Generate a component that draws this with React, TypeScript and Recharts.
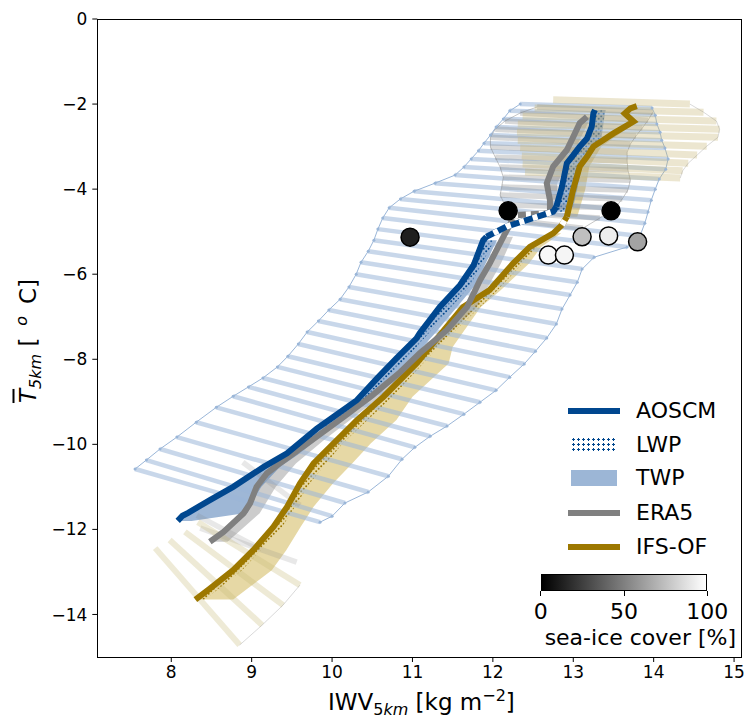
import React from "react";
import { ComposedChart, Line, Area, XAxis, YAxis } from "recharts";

const xTicks = [8, 9, 10, 11, 12, 13, 14, 15];
const yTicks = [0, -2, -4, -6, -8, -10, -12, -14];
const cbarTicks = [0, 50, 100];

// mean curves [IWV, T]
const aoscmMain = [[8.08,-11.80],[8.14,-11.68],[8.21,-11.61],[8.48,-11.31],[8.77,-11.00],[9.15,-10.53],[9.44,-10.21],[9.81,-9.63],[10.02,-9.35],[10.31,-8.96],[10.56,-8.45],[10.80,-7.98],[11.05,-7.51],[11.09,-7.39],[11.34,-6.77],[11.59,-6.26],[11.76,-5.79],[11.88,-5.20],[11.92,-5.12]];
const aoscmGap = [[11.92,-5.12],[12.17,-4.88],[12.42,-4.73],[12.75,-4.53],[12.79,-4.41]];
const aoscmTop = [[12.79,-4.41],[12.86,-3.94],[12.92,-3.39],[13.0,-3.20],[13.08,-3.00],[13.17,-2.81],[13.23,-2.53],[13.25,-2.22],[13.27,-2.14]];

const era5Main = [[8.48,-12.29],[8.65,-12.06],[8.90,-11.62],[8.98,-11.39],[9.06,-11.00],[9.19,-10.68],[9.35,-10.45],[9.75,-9.90],[10.15,-9.35],[10.50,-8.85],[10.85,-8.30],[11.09,-7.86],[11.43,-7.31],[11.68,-6.77],[11.84,-6.14],[11.96,-5.75],[12.13,-5.12],[12.25,-4.70]];
const era5Gap = [[12.25,-4.62],[12.71,-4.56]];
const era5Top = [[12.71,-4.56],[12.71,-4.26],[12.67,-3.86],[12.75,-3.47],[12.92,-3.08],[13.0,-2.77],[13.08,-2.45],[13.17,-2.30]];

const ifsMain = [[8.30,-13.65],[8.48,-13.39],[8.77,-12.96],[9.02,-12.49],[9.27,-11.94],[9.44,-11.47],[9.60,-10.92],[9.77,-10.45],[10.02,-9.98],[10.31,-9.43],[10.64,-8.88],[11.05,-8.10],[11.22,-7.71],[11.63,-6.77],[11.96,-6.37],[12.25,-5.75],[12.46,-5.36],[12.75,-5.04],[12.86,-4.84]];
const ifsGap = [[12.86,-4.84],[12.92,-4.65]];
const ifsTop = [[12.92,-4.65],[13.0,-4.0],[13.08,-3.47],[13.17,-3.24],[13.25,-3.0],[13.50,-2.69],[13.75,-2.41],[13.64,-2.22],[13.71,-2.10],[13.79,-2.05]];

// bands [T, IWV left, IWV right]
const aoscmTwpLow = [[-11.80,8.08,8.25],[-11.61,8.21,8.95],[-11.31,8.48,9.02],[-11.00,8.77,9.12],[-10.53,9.15,9.35],[-10.21,9.44,9.60],[-9.63,9.81,9.98],[-8.96,10.31,10.48],[-7.98,10.80,11.0],[-7.39,11.09,11.28],[-6.26,11.59,11.78],[-5.20,11.88,12.05]];
const aoscmTwpTop = [[-4.53,12.75,12.90],[-4.41,12.79,13.0],[-3.39,12.92,13.12],[-2.81,13.17,13.35],[-2.14,13.27,13.40]];
const aoscmLwpLow = [[-10.21,9.44,9.50],[-9.63,9.81,9.88],[-8.96,10.31,10.40],[-7.98,10.80,10.92],[-7.39,11.09,11.20],[-6.26,11.59,11.72],[-5.20,11.88,12.02]];
const aoscmLwpTop = [[-4.53,12.75,12.85],[-4.41,12.79,12.95],[-3.39,12.92,13.10],[-2.81,13.17,13.33],[-2.14,13.27,13.40]];

const era5TwpLow = [[-12.29,8.48,8.70],[-11.62,8.90,9.10],[-11.00,9.06,9.30],[-10.45,9.35,9.55],[-9.90,9.75,9.90],[-8.85,10.50,10.62],[-7.86,11.09,11.20],[-6.77,11.68,11.80],[-5.75,11.96,12.10],[-5.12,12.13,12.25]];
const era5TwpTop = [[-4.56,12.71,12.80],[-3.86,12.67,12.80],[-3.08,12.92,13.02],[-2.30,13.17,13.22]];

const ifsTwpLow = [[-13.65,8.30,8.77],[-13.39,8.48,8.95],[-12.96,8.77,9.25],[-12.49,9.02,9.43],[-11.94,9.27,9.61],[-11.47,9.44,9.77],[-10.92,9.60,10.01],[-10.45,9.77,10.25],[-9.98,10.02,10.48],[-9.43,10.31,10.80],[-8.88,10.64,11.0],[-8.10,11.05,11.45],[-7.71,11.22,11.50],[-6.77,11.63,11.85],[-6.37,11.96,12.10],[-5.75,12.25,12.45],[-5.36,12.46,12.60],[-5.04,12.75,12.85]];
const ifsLwpLow = [[-13.65,8.30,8.42],[-12.96,8.77,8.88],[-11.94,9.27,9.38],[-10.92,9.60,9.72],[-9.98,10.02,10.13],[-8.88,10.64,10.75],[-7.71,11.22,11.32],[-6.37,11.96,12.06],[-5.36,12.46,12.56]];
const ifsTwpTop = [[-4.65,12.92,13.05],[-4.0,13.0,13.15],[-3.47,13.08,13.20],[-3.0,13.25,13.35],[-2.41,13.75,13.80]];

// spread envelopes: stripes [IWV left, T left, IWV right, T right]
const aoscmStripes = [
  [12.34,-2.00,13.98,-2.09],[12.21,-2.16,14.02,-2.26],[12.13,-2.35,14.04,-2.47],[12.04,-2.54,14.08,-2.66],
  [11.97,-2.73,14.10,-2.85],[11.89,-2.92,14.14,-3.03],[11.82,-3.10,14.18,-3.29],[11.73,-3.29,14.15,-3.53],
  [11.64,-3.48,14.07,-3.76],[11.53,-3.67,14.02,-4.00],[11.28,-3.86,13.97,-4.26],[11.02,-4.05,13.93,-4.54],
  [10.85,-4.23,13.89,-4.80],[10.71,-4.44,13.83,-5.10],[10.63,-4.68,13.67,-5.36],[10.57,-4.94,13.26,-5.60],
  [10.52,-5.20,13.11,-5.88],[10.45,-5.46,13.05,-6.19],[10.36,-5.72,12.96,-6.49],[10.30,-6.00,12.86,-6.82],
  [10.21,-6.30,12.79,-7.17],[10.10,-6.59,12.67,-7.50],[9.96,-6.84,12.53,-7.81],[9.83,-7.10,12.39,-8.11],
  [9.69,-7.36,12.21,-8.42],[9.58,-7.64,12.04,-8.73],[9.45,-7.93,11.84,-9.01],[9.32,-8.18,11.64,-9.29],
  [9.14,-8.44,11.43,-9.57],[8.96,-8.65,11.22,-9.81],[8.77,-8.87,11.03,-10.07],[8.56,-9.13,10.87,-10.35],
  [8.31,-9.48,10.70,-10.75],[8.07,-9.83,10.45,-11.12],[7.86,-10.11,10.16,-11.38],[7.69,-10.37,10.00,-11.69],
  [7.55,-10.58,9.85,-11.83],
];
const era5Stripes = [
  [12.55,-2.07,13.99,-2.19],[12.34,-2.21,13.93,-2.38],[12.15,-2.40,13.86,-2.56],[12.03,-2.59,13.78,-2.75],
  [11.97,-2.78,13.71,-2.94],[11.97,-3.01,13.67,-3.13],[12.03,-3.25,13.67,-3.34],[12.09,-3.48,13.68,-3.55],
  [12.13,-3.72,13.71,-3.79],[12.11,-3.95,13.68,-4.02],[12.09,-4.14,13.61,-4.23],[12.15,-4.37,13.52,-4.44],
  [12.24,-4.56,13.33,-4.68],[12.34,-4.75,13.12,-4.92],
];
const era5LowStripes = [
  [8.89,-10.42,9.60,-11.43],[8.32,-11.67,9.07,-12.42],[8.36,-11.97,9.56,-12.77],
];
const ifsStripes = [
  [12.75,-1.90,14.45,-2.00],[12.52,-2.09,14.62,-2.19],[12.37,-2.28,14.78,-2.40],[12.31,-2.47,14.82,-2.59],
  [12.30,-2.66,14.80,-2.78],[12.31,-2.85,14.66,-2.99],[12.34,-3.03,14.54,-3.20],[12.36,-3.22,14.43,-3.39],
  [12.37,-3.41,14.36,-3.57],[12.40,-3.60,14.33,-3.74],
];
const ifsLowStripes = [
  [7.80,-12.44,8.85,-14.72],[7.98,-12.25,9.13,-14.25],[8.17,-12.06,9.39,-13.78],[8.33,-11.83,9.60,-13.31],
];

// observations: IWV, T, sea-ice cover [%]
const obsIwv = [10.97, 12.19, 13.47, 13.11, 13.44, 13.80, 12.69, 12.89];
const obsT = [-5.13, -4.51, -4.51, -5.12, -5.10, -5.24, -5.55, -5.55];
const obsIce = [12, 0, 0, 75, 93, 64, 97, 96];

const BLUE = "#00478f";
const GRAY = "#808080";
const GOLD = "#9d7800";
const FONT = "'DejaVu Sans', sans-serif";

const pts = (a: number[][]) => a.map(([x, y]) => ({ x, y }));
const band = (a: number[][]) => a.map(([y, l, r]) => ({ y, v: [l, r] }));
const seg = (s: number[]) => [{ x: s[0], y: s[1] }, { x: s[2], y: s[3] }];
const edge = (a: number[][], side: number) => a.map((s) => ({ x: s[side * 2], y: s[side * 2 + 1] }));
const obsData = obsIwv.map((x, i) => ({ x, y: obsT[i], ice: obsIce[i] }));

const ObsDot = (p: any) => {
  const g = Math.round((p.payload.ice / 100) * 255);
  return <circle key={p.index} cx={p.cx} cy={p.cy} r={9} fill={`rgb(${g},${g},${g})`} stroke="#000" strokeWidth={1.5} />;
};

const fmt = (v: number) => (v < 0 ? "\u2212" + Math.abs(v) : String(v));

const subStyle: React.CSSProperties = { fontSize: 16, position: "relative", top: 5 };
const supStyle: React.CSSProperties = { fontSize: 16, position: "relative", top: -9 };

export default function App() {
  const L = 97.3, T = 19, W = 643.2, H = 637.7;
  return (
    <div style={{ position: "absolute", left: 0, top: 0, width: 749, height: 721, background: "#fff", fontFamily: FONT }}>
      <ComposedChart layout="vertical" width={749} height={721} margin={{ top: 19, right: 8.5, bottom: 0, left: 0 }}>
        <defs>
          <pattern id="dotBlue" width="5" height="5" patternUnits="userSpaceOnUse">
            <circle cx="1.2" cy="1.2" r="1" fill={BLUE} />
            <circle cx="3.7" cy="3.7" r="1" fill={BLUE} />
          </pattern>
          <pattern id="dotGold" width="5" height="5" patternUnits="userSpaceOnUse">
            <circle cx="1.2" cy="1.2" r="1" fill={GOLD} />
            <circle cx="3.7" cy="3.7" r="1" fill={GOLD} />
          </pattern>
        </defs>
        <XAxis type="number" dataKey="x" domain={[7.08, 15.08]} ticks={xTicks} allowDataOverflow height={64}
          axisLine={false} tickSize={5} tickMargin={4} tickLine={{ stroke: "#000" }}
          tick={{ fontSize: 17, fill: "#000", fontFamily: FONT }} />
        <YAxis type="number" dataKey="y" domain={[-15, 0]} ticks={yTicks} allowDataOverflow width={97.3} reversed
          axisLine={false} tickSize={5} tickMargin={5} tickLine={{ stroke: "#000" }} tickFormatter={fmt}
          tick={{ fontSize: 17, fill: "#000", fontFamily: FONT }} />

        {/* spread envelopes */}
        {aoscmStripes.map((s, i) => (
          <Line key={"as" + i} data={seg(s)} dataKey="x" stroke="#9ab6d8" strokeOpacity={0.55} strokeWidth={4.5} dot={false} isAnimationActive={false} />
        ))}
        <Line data={edge(aoscmStripes, 0)} dataKey="x" stroke="#9ab6d8" strokeWidth={1} dot={{ r: 1.5, fill: "#9ab6d8", stroke: "none" }} isAnimationActive={false} />
        <Line data={edge(aoscmStripes, 1)} dataKey="x" stroke="#9ab6d8" strokeWidth={1} dot={{ r: 1.5, fill: "#9ab6d8", stroke: "none" }} isAnimationActive={false} />
        {era5Stripes.map((s, i) => (
          <Line key={"es" + i} data={seg(s)} dataKey="x" stroke={GRAY} strokeOpacity={0.3} strokeWidth={5.5} dot={false} isAnimationActive={false} />
        ))}
        {era5LowStripes.map((s, i) => (
          <Line key={"el" + i} data={seg(s)} dataKey="x" stroke={GRAY} strokeOpacity={0.18} strokeWidth={5.5} dot={false} isAnimationActive={false} />
        ))}
        <Line data={edge(era5Stripes, 0)} dataKey="x" stroke={GRAY} strokeOpacity={0.45} strokeWidth={1} dot={false} isAnimationActive={false} />
        <Line data={edge(era5Stripes, 1)} dataKey="x" stroke={GRAY} strokeOpacity={0.45} strokeWidth={1} dot={false} isAnimationActive={false} />
        {ifsStripes.map((s, i) => (
          <Line key={"is" + i} data={seg(s)} dataKey="x" stroke="#c8b878" strokeOpacity={0.35} strokeWidth={7} dot={false} isAnimationActive={false} />
        ))}
        <Line data={edge(ifsStripes, 1)} dataKey="x" stroke={GRAY} strokeOpacity={0.3} strokeWidth={1} dot={false} isAnimationActive={false} />
        {ifsLowStripes.map((s, i) => (
          <Line key={"il" + i} data={seg(s)} dataKey="x" stroke="#c8b878" strokeOpacity={0.3} strokeWidth={6} dot={false} isAnimationActive={false} />
        ))}
        <Line data={edge(ifsLowStripes, 1)} dataKey="x" stroke={GRAY} strokeOpacity={0.3} strokeWidth={1} dot={false} isAnimationActive={false} />

        {/* water path bands */}
        <Area data={band(ifsTwpLow)} dataKey="v" fill="#c8a838" fillOpacity={0.45} stroke="none" isAnimationActive={false} />
        <Area data={band(ifsTwpTop)} dataKey="v" fill="#c8a838" fillOpacity={0.45} stroke="none" isAnimationActive={false} />
        <Area data={band(ifsLwpLow)} dataKey="v" fill="url(#dotGold)" fillOpacity={1} stroke="none" isAnimationActive={false} />
        <Area data={band(era5TwpLow)} dataKey="v" fill={GRAY} fillOpacity={0.4} stroke="none" isAnimationActive={false} />
        <Area data={band(era5TwpTop)} dataKey="v" fill={GRAY} fillOpacity={0.4} stroke="none" isAnimationActive={false} />
        <Area data={band(aoscmTwpLow)} dataKey="v" fill="#3d6fad" fillOpacity={0.5} stroke="none" isAnimationActive={false} />
        <Area data={band(aoscmTwpTop)} dataKey="v" fill="#3d6fad" fillOpacity={0.5} stroke="none" isAnimationActive={false} />
        <Area data={band(aoscmLwpLow)} dataKey="v" fill="url(#dotBlue)" fillOpacity={1} stroke="none" isAnimationActive={false} />
        <Area data={band(aoscmLwpTop)} dataKey="v" fill="url(#dotBlue)" fillOpacity={1} stroke="none" isAnimationActive={false} />

        {/* mean curves */}
        <Line data={pts(ifsMain)} dataKey="x" stroke={GOLD} strokeWidth={6} dot={false} isAnimationActive={false} />
        <Line data={pts(ifsGap)} dataKey="x" stroke={GOLD} strokeWidth={6} dot={false} isAnimationActive={false} />
        <Line data={pts(ifsGap)} dataKey="x" stroke="#fff" strokeWidth={6} strokeDasharray="5 8" dot={false} isAnimationActive={false} />
        <Line data={pts(ifsTop)} dataKey="x" stroke={GOLD} strokeWidth={6} dot={false} isAnimationActive={false} />
        <Line data={pts(era5Main)} dataKey="x" stroke={GRAY} strokeWidth={6} dot={false} isAnimationActive={false} />
        <Line data={pts(era5Gap)} dataKey="x" stroke={GRAY} strokeWidth={6} dot={false} isAnimationActive={false} />
        <Line data={pts(era5Gap)} dataKey="x" stroke="#fff" strokeWidth={6} strokeDasharray="5 8" dot={false} isAnimationActive={false} />
        <Line data={pts(era5Top)} dataKey="x" stroke={GRAY} strokeWidth={6} dot={false} isAnimationActive={false} />
        <Line data={pts(aoscmMain)} dataKey="x" stroke={BLUE} strokeWidth={6} dot={false} isAnimationActive={false} />
        <Line data={pts(aoscmGap)} dataKey="x" stroke={BLUE} strokeWidth={6} dot={false} isAnimationActive={false} />
        <Line data={pts(aoscmGap)} dataKey="x" stroke="#fff" strokeWidth={6} strokeDasharray="5 9" strokeDashoffset={-8} dot={false} isAnimationActive={false} />
        <Line data={pts(aoscmTop)} dataKey="x" stroke={BLUE} strokeWidth={6} dot={false} isAnimationActive={false} />

        {/* observations */}
        <Line data={obsData} dataKey="x" stroke="none" dot={ObsDot} isAnimationActive={false} />
      </ComposedChart>

      {/* axes frame */}
      <div style={{ position: "absolute", left: L - 0.5, top: T - 0.5, width: W, height: H, border: "1.2px solid #000", pointerEvents: "none" }} />

      {/* axis labels */}
      <div style={{ position: "absolute", left: 328, top: 689, fontSize: 23, lineHeight: "26px", whiteSpace: "nowrap" }}>
        IWV<span style={subStyle}>5<i>km</i></span> [kg m<span style={supStyle}>{"\u2212"}2</span>]
      </div>
      <div style={{ position: "absolute", left: 29, top: 341, transform: "translate(-50%,-50%) rotate(-90deg)", whiteSpace: "nowrap", fontSize: 23, lineHeight: "26px" }}>
        <i style={{ textDecoration: "overline" }}>T</i><span style={subStyle}><i>5km</i></span>{" [\u2009 "}<span style={supStyle}><i>o</i></span>{" \u2009C]"}
      </div>

      {/* legend */}
      {[
        { name: "AOSCM", y: 410.7, kind: "line", color: BLUE },
        { name: "LWP", y: 445, kind: "dots", color: BLUE },
        { name: "TWP", y: 478.3, kind: "patch", color: "#9cb6d6" },
        { name: "ERA5", y: 513.3, kind: "line", color: GRAY },
        { name: "IFS-OF", y: 546.7, kind: "line", color: GOLD },
      ].map((e) => (
        <div key={e.name}>
          {e.kind === "line" && (
            <div style={{ position: "absolute", left: 568, top: e.y - 3, width: 52, height: 6, background: e.color }} />
          )}
          {e.kind === "patch" && (
            <div style={{ position: "absolute", left: 571, top: e.y - 8, width: 46, height: 16, background: e.color }} />
          )}
          {e.kind === "dots" && (
            <div style={{ position: "absolute", left: 571, top: e.y - 8, width: 46, height: 16,
              backgroundImage: `radial-gradient(circle, ${BLUE} 1px, transparent 1.3px)`, backgroundSize: "5px 5px" }} />
          )}
          <div style={{ position: "absolute", left: 636, top: e.y - 14, fontSize: 22, lineHeight: "28px" }}>{e.name}</div>
        </div>
      ))}

      {/* colorbar */}
      <div style={{ position: "absolute", left: 540.5, top: 574, width: 166.8, height: 16.7, boxSizing: "border-box",
        border: "1px solid #000", background: "linear-gradient(to right, #000, #fff)" }} />
      {cbarTicks.map((t) => {
        const x = 540.7 + (t / 100) * 166.6;
        return (
          <div key={t}>
            <div style={{ position: "absolute", left: x - 0.5, top: 590.7, width: 1, height: 5, background: "#000" }} />
            <div style={{ position: "absolute", left: x - 40, top: 598, width: 80, textAlign: "center", fontSize: 22, lineHeight: "28px" }}>{t}</div>
          </div>
        );
      })}
      <div style={{ position: "absolute", left: 520, top: 624, width: 216, textAlign: "right", fontSize: 22, lineHeight: "28px" }}>sea-ice cover [%]</div>
    </div>
  );
}
